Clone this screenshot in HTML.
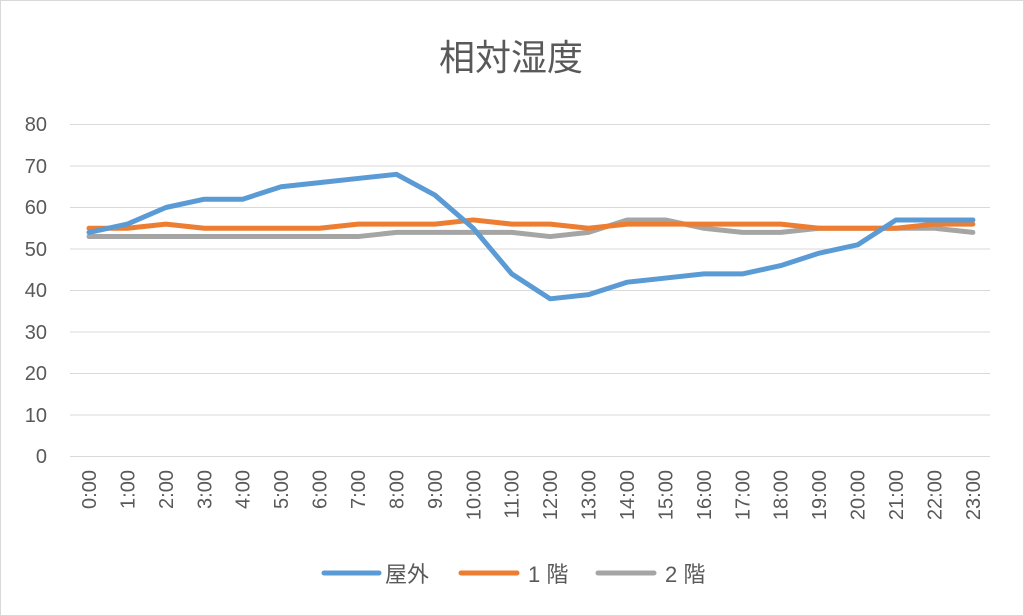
<!DOCTYPE html>
<html><head><meta charset="utf-8"><style>
html,body{margin:0;padding:0;background:#fff}
svg{display:block}
text{font-family:"Liberation Sans","Noto Sans CJK JP",sans-serif;fill:#595959}
</style></head><body>
<svg width="1024" height="616" viewBox="0 0 1024 616">
<rect x="0.5" y="0.5" width="1023" height="615" fill="#fff" stroke="#d9d9d9"/>
<text x="511" y="70" font-size="36" text-anchor="middle">相対湿度</text>
<g stroke="#d9d9d9" stroke-width="1">
<line x1="70" x2="990" y1="124.5" y2="124.5"/>
<line x1="70" x2="990" y1="166" y2="166"/>
<line x1="70" x2="990" y1="207.5" y2="207.5"/>
<line x1="70" x2="990" y1="249" y2="249"/>
<line x1="70" x2="990" y1="290.5" y2="290.5"/>
<line x1="70" x2="990" y1="332" y2="332"/>
<line x1="70" x2="990" y1="373.5" y2="373.5"/>
<line x1="70" x2="990" y1="415" y2="415"/>
<line x1="70" x2="990" y1="456.5" y2="456.5"/>
</g>
<g font-size="20" text-anchor="end">
<text x="47" y="131">80</text><text x="47" y="173">70</text><text x="47" y="214">60</text>
<text x="47" y="256">50</text><text x="47" y="297">40</text><text x="47" y="339">30</text>
<text x="47" y="380">20</text><text x="47" y="422">10</text><text x="47" y="463">0</text>
</g>
<g font-size="20" text-anchor="end">
<text transform="translate(96,470) rotate(-90)">0:00</text>
<text transform="translate(134.4,470) rotate(-90)">1:00</text>
<text transform="translate(172.9,470) rotate(-90)">2:00</text>
<text transform="translate(211.3,470) rotate(-90)">3:00</text>
<text transform="translate(249.7,470) rotate(-90)">4:00</text>
<text transform="translate(288.2,470) rotate(-90)">5:00</text>
<text transform="translate(326.6,470) rotate(-90)">6:00</text>
<text transform="translate(365,470) rotate(-90)">7:00</text>
<text transform="translate(403.4,470) rotate(-90)">8:00</text>
<text transform="translate(441.9,470) rotate(-90)">9:00</text>
<text transform="translate(480.3,470) rotate(-90)">10:00</text>
<text transform="translate(518.7,470) rotate(-90)">11:00</text>
<text transform="translate(557.2,470) rotate(-90)">12:00</text>
<text transform="translate(595.6,470) rotate(-90)">13:00</text>
<text transform="translate(634,470) rotate(-90)">14:00</text>
<text transform="translate(672.5,470) rotate(-90)">15:00</text>
<text transform="translate(710.9,470) rotate(-90)">16:00</text>
<text transform="translate(749.3,470) rotate(-90)">17:00</text>
<text transform="translate(787.7,470) rotate(-90)">18:00</text>
<text transform="translate(826.2,470) rotate(-90)">19:00</text>
<text transform="translate(864.6,470) rotate(-90)">20:00</text>
<text transform="translate(903,470) rotate(-90)">21:00</text>
<text transform="translate(941.5,470) rotate(-90)">22:00</text>
<text transform="translate(979.9,470) rotate(-90)">23:00</text>
</g>
<g transform="translate(89,456.5) scale(38.43,-4.15)" fill="none" stroke-linejoin="round" stroke-linecap="round">
<polyline vector-effect="non-scaling-stroke" stroke="#a5a5a5" stroke-width="5" points="0,53 1,53 2,53 3,53 4,53 5,53 6,53 7,53 8,54 9,54 10,54 11,54 12,53 13,54 14,57 15,57 16,55 17,54 18,54 19,55 20,55 21,55 22,55 23,54"/>
<polyline vector-effect="non-scaling-stroke" stroke="#ed7d31" stroke-width="5" points="0,55 1,55 2,56 3,55 4,55 5,55 6,55 7,56 8,56 9,56 10,57 11,56 12,56 13,55 14,56 15,56 16,56 17,56 18,56 19,55 20,55 21,55 22,56 23,56"/>
<polyline vector-effect="non-scaling-stroke" stroke="#5b9bd5" stroke-width="5" points="0,54 1,56 2,60 3,62 4,62 5,65 6,66 7,67 8,68 9,63 10,55 11,44 12,38 13,39 14,42 15,43 16,44 17,44 18,46 19,49 20,51 21,57 22,57 23,57"/>
</g>
<g stroke-width="5" stroke-linecap="round">
<line x1="324" x2="379" y1="573" y2="573" stroke="#5b9bd5"/>
<line x1="461" x2="517" y1="573" y2="573" stroke="#ed7d31"/>
<line x1="598" x2="654" y1="573" y2="573" stroke="#a5a5a5"/>
</g>
<g font-size="22">
<text x="385" y="582">屋外</text>
<text x="528" y="582">1 階</text>
<text x="665" y="582">2 階</text>
</g>
</svg>
</body></html>
